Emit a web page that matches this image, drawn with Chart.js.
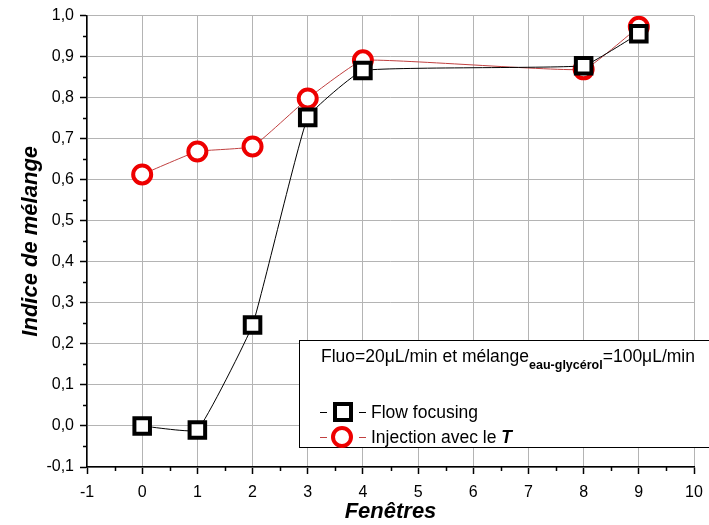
<!DOCTYPE html>
<html>
<head>
<meta charset="utf-8">
<script src="https://cdn.jsdelivr.net/npm/chart.js@4/dist/chart.umd.min.js"></script>
<style>
  html, body { margin: 0; padding: 0; background: #fff; }
  #chart { display: block; }
</style>
</head>
<body>
<canvas id="chart" width="709" height="525"></canvas>
<script>
// windows (x) and mixing index values
const windows = [0, 1, 2, 3, 4, 8, 9];
const flowFocusing = [0.0, -0.01, 0.246, 0.752, 0.866, 0.878, 0.956];
const injectionT = [0.613, 0.669, 0.681, 0.798, 0.891, 0.869, 0.973];

const xMin = -1, xMax = 10;
const yMin = -0.1, yMax = 1.0;

const toPoints = vals => windows.map((w, i) => ({ x: w, y: vals[i] }));
const comma = v => v.toFixed(1).replace(".", ",");

const FONT = "'Liberation Sans', Arial, sans-serif";

// minor ticks + the boxed legend with subscript text
const extras = {
    id: "extras",
    afterDraw(chart) {
        const ctx = chart.ctx;
        const { x, y } = chart.scales;
        const area = chart.chartArea;
        ctx.save();
        ctx.strokeStyle = "#000";
        ctx.lineWidth = 1.5;
        ctx.beginPath();
        for (let v = xMin + 0.5; v < xMax; v += 1) {
            const px = Math.round(x.getPixelForValue(v)) + 0.5;
            ctx.moveTo(px, area.bottom);
            ctx.lineTo(px, area.bottom + 4);
        }
        for (let v = yMin + 0.05; v < yMax; v += 0.1) {
            const py = Math.round(y.getPixelForValue(v)) + 0.5;
            ctx.moveTo(area.left - 4, py);
            ctx.lineTo(area.left, py);
        }
        ctx.stroke();

        // legend box
        const bx = 299.5, by = 340.5, bw = 410, bh = 107;
        ctx.fillStyle = "#fff";
        ctx.fillRect(bx, by, bw, bh);
        ctx.lineWidth = 1;
        ctx.strokeStyle = "#000";
        ctx.strokeRect(bx, by, bw, bh);

        const main = "17.5px " + FONT;
        ctx.fillStyle = "#000";
        ctx.textBaseline = "middle";
        ctx.font = main;
        let tx = 321;
        const t1 = "Fluo=20\u03bcL/min et m\u00e9lange";
        ctx.fillText(t1, tx, 357);
        tx += ctx.measureText(t1).width;
        ctx.font = "bold 12.5px " + FONT;
        const sub = "eau-glyc\u00e9rol";
        ctx.fillText(sub, tx, 366);
        tx += ctx.measureText(sub).width;
        ctx.font = main;
        ctx.fillText("=100\u03bcL/min", tx, 357);

        // entry 1: flow focusing
        const r1 = 412, r2 = 437, mx = 343;
        ctx.lineWidth = 1;
        ctx.strokeStyle = "#000";
        ctx.beginPath();
        ctx.moveTo(320, r1 + 0.5); ctx.lineTo(327, r1 + 0.5);
        ctx.moveTo(359, r1 + 0.5); ctx.lineTo(366, r1 + 0.5);
        ctx.stroke();
        ctx.lineWidth = 4;
        ctx.fillStyle = "#fff";
        ctx.fillRect(mx - 8, r1 - 8, 16, 16);
        ctx.strokeRect(mx - 8, r1 - 8, 16, 16);
        ctx.fillStyle = "#000";
        ctx.font = main;
        ctx.fillText("Flow focusing", 371, r1 + 1);

        // entry 2: injection
        ctx.lineWidth = 1;
        ctx.strokeStyle = "#c04040";
        ctx.beginPath();
        ctx.moveTo(320, r2 + 0.5); ctx.lineTo(327, r2 + 0.5);
        ctx.moveTo(359, r2 + 0.5); ctx.lineTo(366, r2 + 0.5);
        ctx.stroke();
        ctx.lineWidth = 4;
        ctx.strokeStyle = "#ee0000";
        ctx.fillStyle = "#fff";
        ctx.beginPath();
        ctx.arc(mx - 1, r2, 9, 0, Math.PI * 2);
        ctx.fill();
        ctx.stroke();
        ctx.fillStyle = "#000";
        const t2 = "Injection avec le ";
        ctx.font = main;
        ctx.fillText(t2, 371, r2 + 1);
        const w2 = ctx.measureText(t2).width;
        ctx.font = "bold italic 17.5px " + FONT;
        ctx.fillText("T", 371 + w2, r2 + 1);
        ctx.restore();
    }
};

new Chart(document.getElementById("chart"), {
    type: "line",
    data: {
        datasets: [
            {
                label: "Flow focusing",
                data: toPoints(flowFocusing),
                borderColor: "#000",
                borderWidth: 1,
                tension: 0.1,
                pointStyle: "rect",
                pointRadius: 11,
                pointBorderWidth: 4,
                pointBorderColor: "#000",
                pointBackgroundColor: "#fff"
            },
            {
                label: "Injection avec le T",
                data: toPoints(injectionT),
                borderColor: "#c04040",
                borderWidth: 1,
                tension: 0.1,
                pointStyle: "circle",
                pointRadius: 9,
                pointBorderWidth: 4,
                pointBorderColor: "#ee0000",
                pointBackgroundColor: "#fff"
            }
        ]
    },
    options: {
        responsive: false,
        animation: false,
        events: [],
        layout: { padding: { top: 15, right: 4, left: 0, bottom: 0 } },
        plugins: {
            legend: { display: false },
            tooltip: { enabled: false }
        },
        scales: {
            x: {
                type: "linear",
                min: xMin,
                max: xMax,
                ticks: {
                    stepSize: 1,
                    padding: 9,
                    color: "#000",
                    font: { family: FONT, size: 16 }
                },
                grid: { color: "#b4b4b4", lineWidth: 1, tickLength: 7, tickColor: "#000", tickWidth: 1.5 },
                border: { color: "#000", width: 1.5 },
                title: {
                    display: true,
                    text: "Fenêtres",
                    color: "#000",
                    padding: { top: 0, bottom: 0 },
                    font: { family: FONT, size: 22, weight: "bold", style: "italic" }
                },
                afterFit(scale) {
                    scale.height = 58;
                    scale.paddingRight = 0;
                    scale.paddingLeft = 0;
                }
            },
            y: {
                min: yMin,
                max: yMax,
                ticks: {
                    stepSize: 0.1,
                    padding: 6,
                    color: "#000",
                    font: { family: FONT, size: 16 },
                    callback: v => comma(v)
                },
                grid: { color: "#b4b4b4", lineWidth: 1, tickLength: 7, tickColor: "#000", tickWidth: 1.5 },
                border: { color: "#000", width: 1.5 },
                title: {
                    display: true,
                    text: "Indice de mélange",
                    color: "#000",
                    padding: { top: 18, bottom: 0 },
                    font: { family: FONT, size: 22, weight: "bold", style: "italic" }
                },
                afterFit(scale) { scale.width = 87; }
            }
        }
    },
    plugins: [extras]
});
</script>
</body>
</html>
